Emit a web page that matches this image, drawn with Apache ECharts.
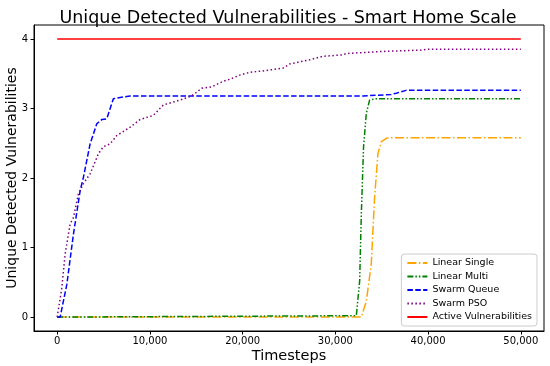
<!DOCTYPE html>
<html>
<head>
<meta charset="utf-8">
<script src="https://cdn.jsdelivr.net/npm/echarts@6/dist/echarts.min.js"></script>
<style>html,body{margin:0;padding:0;background:#fff;}#c{width:550px;height:366px;}</style>
</head>
<body>
<div id="c"></div>
<script>
const xTicks = [0, 10000, 20000, 30000, 40000, 50000];
const yTicks = [0, 1, 2, 3, 4];

const linearSingle = [[0,0],[32800,0],[33340,0.23],[33870,0.76],[34230,1.72],[34590,2.35],[34950,2.52],[35490,2.57],[36000,2.58],[50000,2.58]];
const linearMulti = [[0,0],[32260,0.02],[32620,0.52],[32800,1.48],[33040,2.45],[33340,2.93],[33690,3.12],[34400,3.14],[50000,3.14]];
const swarmQueue = [[0,0],[320,0],[1040,0.47],[1750,1.19],[2480,1.82],[2830,2.01],[3550,2.49],[4270,2.78],[4810,2.84],[5350,2.85],[6060,3.14],[6430,3.15],[7860,3.18],[33000,3.18],[34400,3.19],[36000,3.2],[36570,3.22],[37640,3.26],[50000,3.26]];
const swarmPSO = [[0,0],[140,0],[500,0.42],[860,0.91],[1400,1.34],[1750,1.43],[2290,1.77],[2830,1.92],[3550,2.06],[4450,2.35],[4980,2.45],[5700,2.49],[6430,2.61],[7860,2.73],[8930,2.84],[10370,2.90],[11440,3.05],[13240,3.12],[14500,3.18],[15580,3.29],[16650,3.31],[17900,3.39],[18620,3.42],[19700,3.48],[20780,3.52],[22210,3.54],[24360,3.58],[25080,3.64],[27230,3.70],[28670,3.75],[30820,3.77],[31180,3.79],[35120,3.82],[39430,3.84],[39800,3.85],[50000,3.85]];
const active = [[0,4],[50000,4]];

const FONT = 'DejaVu Sans';
const chart = echarts.init(document.getElementById('c'));
function mk(name, data, color, type, width) {
  return {
    name, type: 'line', data, showSymbol: false, symbol: 'none',
    lineStyle: { color, type, width: width || 1.5 },
    itemStyle: { color },
    emphasis: { disabled: true }, animation: false
  };
}
chart.setOption({
  animation: false,
  title: {
    text: 'Unique Detected Vulnerabilities - Smart Home Scale',
    left: 283, textAlign: 'center', top: 4,
    textStyle: { fontFamily: FONT, fontSize: 17.5, fontWeight: 'normal', color: '#000' }
  },
  grid: { left: 34, right: 6, top: 25, bottom: 35, containLabel: false, outerBoundsMode: 'none',
    show: true, borderColor: '#000', borderWidth: 1, backgroundColor: '#fff' },
  legend: {
    orient: 'vertical', right: 13, bottom: 40,
    backgroundColor: '#fff', borderColor: '#ccc', borderWidth: 1, borderRadius: 3,
    padding: [4, 5, 4, 5], itemGap: 3.5, itemWidth: 20, itemHeight: 10,
    itemStyle: { opacity: 0 },
    textStyle: { fontFamily: FONT, fontSize: 9.5, color: '#000' },
    data: ['Linear Single', 'Linear Multi', 'Swarm Queue', 'Swarm PSO', 'Active Vulnerabilities']
  },
  xAxis: {
    type: 'value', min: -2500, max: 52500,
    name: 'Timesteps', nameLocation: 'middle', nameGap: 18, nameMoveOverlap: false,
    nameTextStyle: { fontFamily: FONT, fontSize: 14.5, color: '#000' },
    axisLine: { show: true, onZero: false, lineStyle: { color: '#000' } },
    axisTick: { show: true, customValues: xTicks, length: 3.5, lineStyle: { color: '#000' } },
    axisLabel: { customValues: xTicks, fontFamily: FONT, fontSize: 10, color: '#000', margin: 5,
      formatter: v => Number(v).toLocaleString('en-US') },
    splitLine: { show: false }
  },
  yAxis: {
    type: 'value', min: -0.2, max: 4.2,
    name: 'Unique Detected Vulnerabilities', nameLocation: 'middle', nameGap: 15, nameMoveOverlap: false,
    nameTextStyle: { fontFamily: FONT, fontSize: 14, color: '#000' },
    axisLine: { show: true, onZero: false, lineStyle: { color: '#000' } },
    axisTick: { show: true, customValues: yTicks, length: 3.5, lineStyle: { color: '#000' } },
    axisLabel: { customValues: yTicks, fontFamily: FONT, fontSize: 10, color: '#000', margin: 6 },
    splitLine: { show: false }
  },
  series: [
    mk('Linear Single', linearSingle, '#FFA500', [9, 2.5, 1.5, 2.5]),
    mk('Linear Multi', linearMulti, '#008000', [6, 2, 1.5, 2, 1.5, 2]),
    mk('Swarm Queue', swarmQueue, '#0000FF', [5.5, 2.4]),
    mk('Swarm PSO', swarmPSO, '#800080', [1.5, 2.5]),
    mk('Active Vulnerabilities', active, '#FF0000', 'solid')
  ]
});
</script>
</body>
</html>
